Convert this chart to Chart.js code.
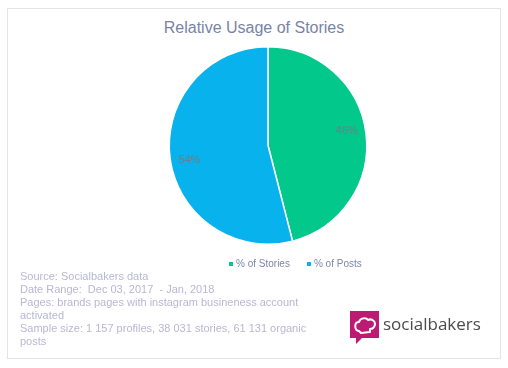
<!DOCTYPE html>
<html>
<head>
<meta charset="utf-8">
<script src="https://cdn.jsdelivr.net/npm/chart.js@4.4.0/dist/chart.umd.min.js"></script>
<style>
  body { margin: 0; background: #fff; font-family: Arial, "Liberation Sans", Helvetica, sans-serif; }
  #marco { position: absolute; left: 7px; top: 8px; width: 492px; height: 349px; border: 1px solid #e4e4e8; }
  #titulo { position: absolute; left: 0; width: 508px; top: 19px; text-align: center; font-size: 16px; color: #7884a6; }
  #grafica { position: absolute; left: 0; top: 0; }
  #leyenda { position: absolute; left: 229px; top: 258px; font-size: 10px; color: #7d88a8; white-space: nowrap; }
  #leyenda span.caja { display: inline-block; width: 4px; height: 4px; margin-right: 3px; vertical-align: 1px; }
  #leyenda span.item { margin-right: 17px; }
  #nota { position: absolute; left: 20px; top: 270px; font-size: 11px; line-height: 13px; color: #b9b7d3; width: 300px; }
  #logo { position: absolute; left: 350px; top: 311px; }
  #logo-texto { position: absolute; left: 383px; top: 312px; font-family: "Open Sans", sans-serif; font-size: 17px; color: #4b4b4b; }
</style>
</head>
<body>
<div id="marco"></div>
<div id="titulo">Relative Usage of Stories</div>
<canvas id="grafica" width="508" height="368"></canvas>
<div id="leyenda"></div>
<div id="nota">
  Source: Socialbakers data<br>
  Date Range:&nbsp; Dec 03, 2017 &nbsp;- Jan, 2018<br>
  Pages: brands pages with instagram busineness account activated<br>
  Sample size: 1 157 profiles, 38 031 stories, 61 131 organic posts
</div>
<svg id="logo" width="30" height="34" viewBox="0 0 30 34">
  <path d="M0 0 H29 V27 H12 L6 33 V27 H0 Z" fill="#bc1a73"/>
  <path d="M9 20 C4 19 4 11 9 11 C10 7 16 6 18 9 C22 7 27 11 24 16 C23 18 21 18 20 18 L20 21 L11 22 Z" fill="none" stroke="#fff" stroke-width="2" stroke-linejoin="round"/>
</svg>
<div id="logo-texto">socialbakers</div>

<script>
// Datos de la gráfica
const categorias = ['% of Stories', '% of Posts'];
const valores = [46, 54];
const colores = ['#03c88c', '#08b2ec'];

// Leyenda en HTML
const leyenda = document.getElementById('leyenda');
categorias.forEach((cat, i) => {
    const item = document.createElement('span');
    item.className = 'item';
    item.innerHTML = `<span class="caja" style="background:${colores[i]}"></span>${cat}`;
    leyenda.appendChild(item);
});

// Plugin para dibujar los porcentajes dentro de cada porción
const etiquetasPorcentaje = {
    id: 'etiquetasPorcentaje',
    afterDatasetsDraw(chart) {
        const ctx = chart.ctx;
        const meta = chart.getDatasetMeta(0);
        ctx.save();
        ctx.font = '11px Arial, "Liberation Sans", sans-serif';
        ctx.fillStyle = 'rgba(120,120,130,0.9)';
        ctx.textAlign = 'center';
        ctx.textBaseline = 'middle';
        meta.data.forEach((arco, i) => {
            const p = arco.getProps(['x', 'y', 'startAngle', 'endAngle', 'outerRadius']);
            const medio = (p.startAngle + p.endAngle) / 2 - 0.06;
            const r = p.outerRadius * 0.81;
            ctx.fillText(valores[i] + '%', p.x + Math.cos(medio) * r, p.y + Math.sin(medio) * r);
        });
        ctx.restore();
    }
};

const ctx = document.getElementById('grafica').getContext('2d');
const grafica = new Chart(ctx, {
    type: 'pie',
    data: {
        labels: categorias,
        datasets: [{
            data: valores,
            backgroundColor: colores,
            borderColor: '#ffffff',
            borderWidth: 1.5
        }]
    },
    options: {
        responsive: false,
        animation: false,
        layout: { padding: { left: 168, right: 140, top: 46, bottom: 123 } },
        plugins: {
            legend: { display: false },
            tooltip: { enabled: false }
        }
    },
    plugins: [etiquetasPorcentaje]
});
</script>
</body>
</html>
